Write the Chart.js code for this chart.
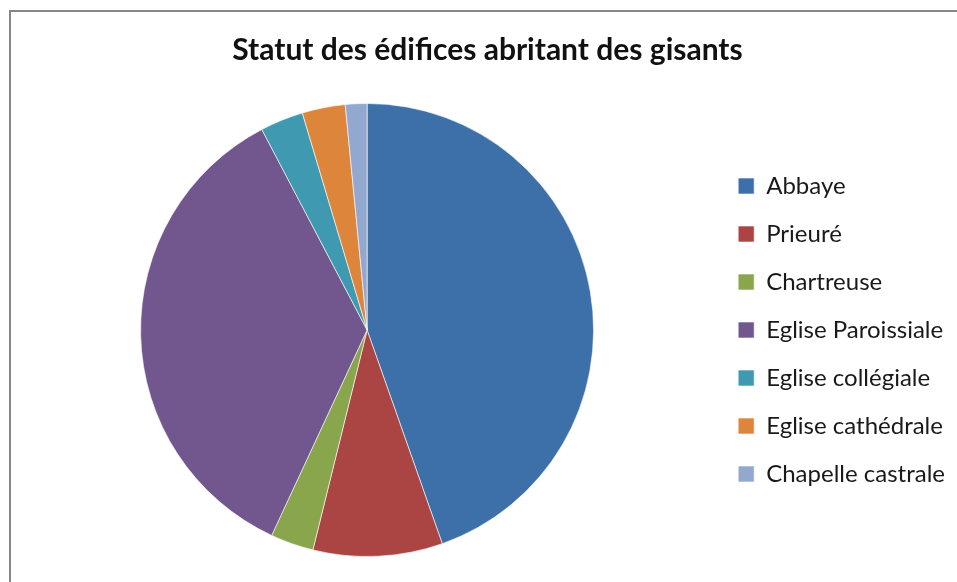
<!DOCTYPE html>
<html>
<head>
<meta charset="utf-8">
<script src="https://cdn.jsdelivr.net/npm/chart.js@4/dist/chart.umd.min.js"></script>
<style>
    html, body { margin: 0; padding: 0; background: #fff; overflow: hidden; }
    #chart { position: absolute; left: 0; top: 0; }
    #frame {
        position: absolute; left: 9px; top: 10px; width: 1000px; height: 1000px;
        border-left: 2px solid #878787; border-top: 2px solid #878787;
        pointer-events: none;
    }
</style>
</head>
<body>
<canvas id="chart" width="980" height="600"></canvas>
<div id="frame"></div>
<script>
const categories = ['Abbaye', 'Prieuré', 'Chartreuse', 'Eglise Paroissiale', 'Eglise collégiale', 'Eglise cathédrale', 'Chapelle castrale'];
const counts = [29, 6, 2, 23, 2, 2, 1];
const sliceColors = ['#3d70a8', '#aa4543', '#8aa64c', '#72578e', '#3f9ab1', '#dd853b', '#92a8cf'];
const chartTitle = 'Statut des édifices abritant des gisants';

const ctx = document.getElementById('chart');
const chart = new Chart(ctx, {
    type: 'pie',
    data: {
        labels: categories,
        datasets: [{
            data: counts,
            backgroundColor: sliceColors,
            borderColor: 'rgba(255,255,255,0.6)',
            borderWidth: 1
        }]
    },
    options: {
        responsive: false,
        animation: false,
        layout: {
            padding: { left: 20, right: 25, top: 0, bottom: 43 }
        },
        plugins: {
            title: {
                display: true,
                text: chartTitle,
                color: '#111',
                font: { family: 'Lato', size: 30, weight: 'bold' },
                padding: { top: 32, bottom: 35 }
            },
            legend: {
                position: 'right',
                fullSize: false,
                maxWidth: 246,
                labels: {
                    color: '#1a1a1a',
                    font: { family: 'Lato', size: 24 },
                    boxWidth: 16,
                    boxHeight: 16,
                    padding: 24
                }
            },
            tooltip: { enabled: false }
        }
    }
});
console.log('legend', chart.legend.left, chart.legend.width, JSON.stringify(chart.chartArea));
</script>
</body>
</html>
